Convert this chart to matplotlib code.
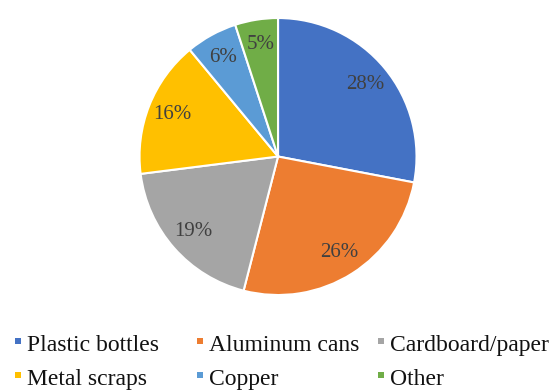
import matplotlib
matplotlib.use("Agg")
import matplotlib.pyplot as plt
from matplotlib.patches import Rectangle

categories = ["Plastic bottles", "Aluminum cans", "Cardboard/paper", "Metal scraps", "Copper", "Other"]
values = [28, 26, 19, 16, 6, 5]
colors = ["#4472C4", "#ED7D31", "#A5A5A5", "#FFC000", "#5B9BD5", "#70AD47"]

plt.rcParams['font.family'] = ['Liberation Serif', 'DejaVu Serif']

W, H = 555, 391
fig = plt.figure(figsize=(W / 100, H / 100), dpi=100)
ax = fig.add_axes([0.2514, 0.2455, 0.4991, 0.7084])
wedges, texts, autotexts = ax.pie(values, colors=colors, startangle=90, counterclock=False,
                                  autopct=lambda p: f"{p:.0f}%", pctdistance=0.82,
                                  wedgeprops=dict(edgecolor="white", linewidth=1.5),
                                  textprops=dict(color="#404040", fontsize=15))
ax.set_xlim(-1, 1)
ax.set_ylim(-1, 1)
ax.set_aspect("equal")
ax.axis("off")

# manual legend (3 columns x 2 rows)
col_x = [18, 200, 381]
row_base = [351, 385]
for i, (lab, c) in enumerate(zip(categories, colors)):
    r, k = divmod(i, 3)
    mx = col_x[k]
    by = row_base[r]
    s = 6.5
    fig.patches.append(Rectangle(((mx - s / 2) / W, 1 - (by - 10 + s / 2) / H), s / W, s / H,
                                 transform=fig.transFigure, facecolor=c, edgecolor="none"))
    fig.text((mx + 9) / W, 1 - by / H, lab, fontsize=17, color="#111111",
             ha="left", va="baseline")

fig.savefig("out.png", dpi=100)
